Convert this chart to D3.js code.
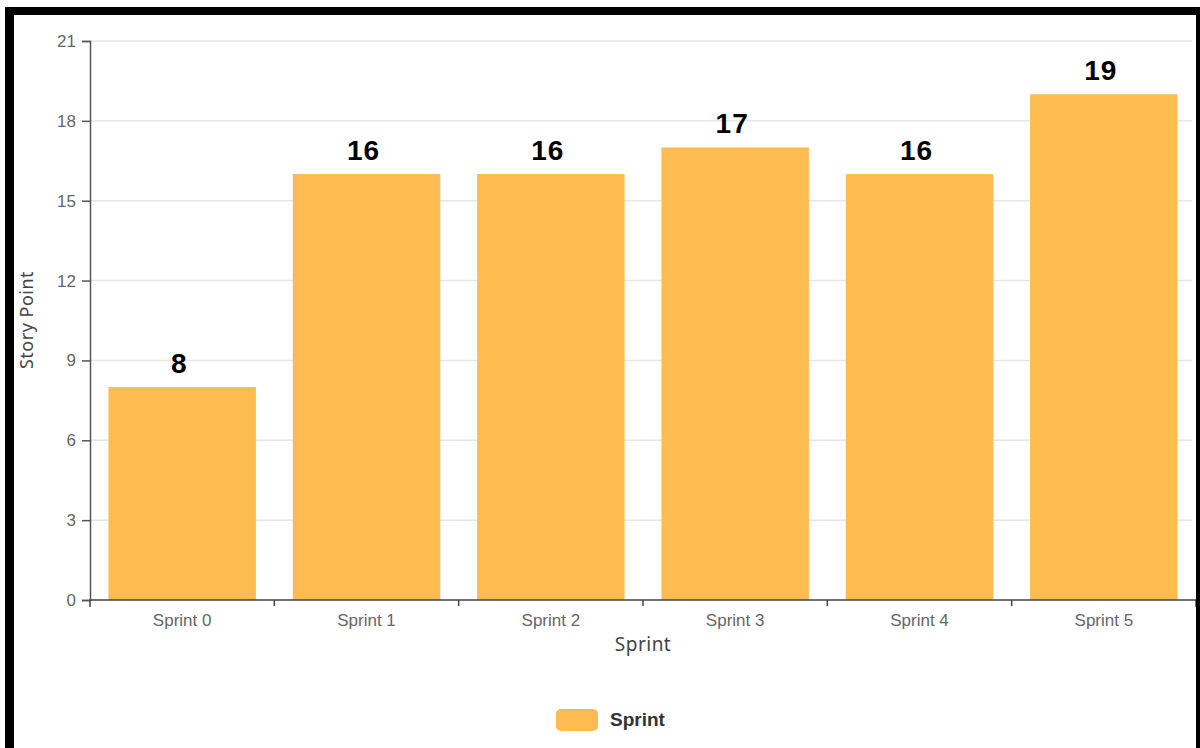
<!DOCTYPE html>
<html>
<head>
<meta charset="utf-8">
<script src="https://cdn.jsdelivr.net/npm/d3@7"></script>
<style>
  html, body { margin: 0; padding: 0; background: #fff; }
  svg { display: block; }
</style>
</head>
<body>
<svg id="chart" width="1200" height="748"></svg>
<script>
const categories = ["Sprint 0", "Sprint 1", "Sprint 2", "Sprint 3", "Sprint 4", "Sprint 5"];
const storyPoints = [8, 16, 16, 17, 16, 19];
const yTicks = [0, 3, 6, 9, 12, 15, 18, 21];
const seriesName = "Sprint";
const xTitle = "Sprint";
const yTitle = "Story Point";

(function () {
const svg = d3.select("#chart");
const W = 1200, H = 748;
const mLeft = 90, mRight = 1196, mTop = 41, mBottom = 600;
const barColor = "#fdbb50";

svg.append("rect").attr("width", W).attr("height", H).attr("fill", "#fff");

const x = d3.scaleBand().domain(categories).range([mLeft, mRight]).paddingInner(0.2).paddingOuter(0.1);
const xEdge = d3.scaleBand().domain(categories).range([mLeft, mRight]).padding(0);
const y = d3.scaleLinear().domain([0, 21]).range([mBottom, mTop]);

// gridlines
svg.append("g").selectAll("line").data(yTicks.filter(d => d > 0)).join("line")
  .attr("x1", mLeft).attr("x2", 1192)
  .attr("y1", d => y(d)).attr("y2", d => y(d))
  .attr("stroke", "#e6e6e6").attr("stroke-width", 1.5);

// bars
svg.append("g").selectAll("rect").data(storyPoints).join("rect")
  .attr("x", (d, i) => x(categories[i]))
  .attr("width", x.bandwidth())
  .attr("y", d => y(d))
  .attr("height", d => y(0) - y(d))
  .attr("fill", barColor);

// value labels
svg.append("g").selectAll("text").data(storyPoints).join("text")
  .attr("x", (d, i) => xEdge(categories[i]) + xEdge.bandwidth() / 2 - 3)
  .attr("y", d => y(d) - 14)
  .attr("text-anchor", "middle")
  .attr("font-family", "Liberation Sans, Arial, sans-serif")
  .attr("font-weight", "bold")
  .attr("font-size", 28)
  .attr("letter-spacing", 1)
  .attr("fill", "#000")
  .text(d => d);

// y axis
const yAxis = svg.append("g").attr("transform", `translate(${mLeft},0)`)
  .call(d3.axisLeft(y).tickValues(yTicks).tickSize(8).tickPadding(6).tickSizeOuter(8));
yAxis.select(".domain").attr("stroke", "#555").attr("stroke-width", 1.5);
yAxis.selectAll(".tick line").attr("stroke", "#555").attr("stroke-width", 1.5);
yAxis.selectAll("text").attr("font-family", "Liberation Sans, Arial, sans-serif")
  .attr("font-size", 17).attr("fill", "#666");

// x axis
const xAxis = svg.append("g").attr("transform", `translate(0,${mBottom})`)
  .call(d3.axisBottom(xEdge).tickSize(0).tickPadding(14));
xAxis.select(".domain").attr("stroke", "#444").attr("stroke-width", 1.5)
  .attr("d", `M${mLeft},7V0H${mRight}V7`);
xAxis.selectAll("text").attr("font-family", "Liberation Sans, Arial, sans-serif")
  .attr("font-size", 17).attr("fill", "#666");
// band edge ticks
xAxis.append("g").selectAll("line").data(categories.slice(1)).join("line")
  .attr("x1", d => xEdge(d)).attr("x2", d => xEdge(d))
  .attr("y1", 0).attr("y2", 6).attr("stroke", "#444").attr("stroke-width", 1.5);

// axis titles
svg.append("text")
  .attr("x", 643).attr("y", 651)
  .attr("text-anchor", "middle")
  .attr("font-family", "Noto Sans, sans-serif")
  .attr("font-size", 19)
  .attr("letter-spacing", 0.5)
  .attr("fill", "#444")
  .text(xTitle);

svg.append("text")
  .attr("transform", "translate(33,320) rotate(-90)")
  .attr("text-anchor", "middle")
  .attr("font-family", "Noto Sans, sans-serif")
  .attr("font-size", 18)
  .attr("letter-spacing", 0.5)
  .attr("fill", "#444")
  .text(yTitle);

// legend
const lg = svg.append("g");
lg.append("rect").attr("x", 556).attr("y", 709).attr("width", 42).attr("height", 22)
  .attr("rx", 5).attr("fill", barColor);
lg.append("text").attr("x", 610).attr("y", 726)
  .attr("font-family", "Liberation Sans, Arial, sans-serif")
  .attr("font-weight", "bold").attr("font-size", 19).attr("fill", "#333")
  .text(seriesName);

// black frame
svg.append("rect").attr("x", 5).attr("y", 7).attr("width", 1195).attr("height", 8).attr("fill", "#000");
svg.append("rect").attr("x", 5).attr("y", 7).attr("width", 9).attr("height", 741).attr("fill", "#000");
svg.append("rect").attr("x", 1196).attr("y", 7).attr("width", 4).attr("height", 741).attr("fill", "#000");
})();
</script>
</body>
</html>
